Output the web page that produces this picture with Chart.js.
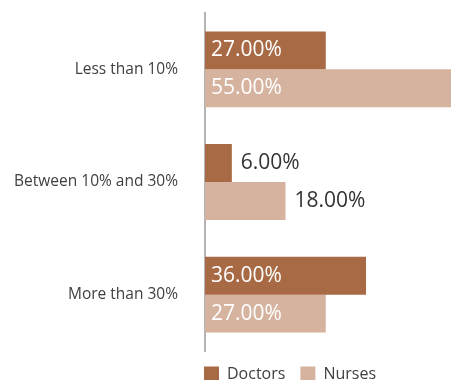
<!DOCTYPE html>
<html>
<head>
<meta charset="utf-8">
<script src="https://cdn.jsdelivr.net/npm/chart.js@4"></script>
<style>
  html, body { margin: 0; padding: 0; background: #fff; }
  #wrap { width: 451px; height: 380px; }
</style>
</head>
<body>
<div id="wrap"><canvas id="chart"></canvas></div>
<script>
const categories = ['Less than 10%', 'Between 10% and 30%', 'More than 30%'];
const doctors = [27, 6, 36];
const nurses = [55, 18, 27];
const seriesNames = ['Doctors', 'Nurses'];
const seriesColors = ['#A86A44', '#D5B39E'];

// value labels: inside the bar when it fits, after it otherwise
const valueLabels = {
    id: 'valueLabels',
    afterDatasetsDraw(chart) {
        const ctx = chart.ctx;
        ctx.save();
        ctx.font = '21px "Open Sans"';
        ctx.textBaseline = 'middle';
        chart.data.datasets.forEach((ds, i) => {
            chart.getDatasetMeta(i).data.forEach((bar, j) => {
                const text = ds.data[j].toFixed(2) + '%';
                const w = ctx.measureText(text).width;
                if (bar.x - bar.base > w + 14) {
                    ctx.fillStyle = '#fff';
                    ctx.fillText(text, bar.base + 6, bar.y);
                } else {
                    ctx.fillStyle = '#333';
                    ctx.fillText(text, bar.x + 9, bar.y);
                }
            });
        });
        ctx.restore();
    }
};

// legend starts under the axis line
const legendShift = {
    id: 'legendShift',
    afterLayout(chart) {
        chart.legend.left = 189;
        chart.legend.right = 451;
    }
};

new Chart(document.getElementById('chart'), {
    type: 'bar',
    data: {
        labels: categories,
        datasets: [
            { label: seriesNames[0], data: doctors, backgroundColor: seriesColors[0] },
            { label: seriesNames[1], data: nurses, backgroundColor: seriesColors[1] }
        ]
    },
    options: {
        indexAxis: 'y',
        responsive: true,
        maintainAspectRatio: false,
        animation: false,
        categoryPercentage: 0.673,
        barPercentage: 1,
        layout: { padding: { top: 13, right: 0, left: 0, bottom: -12 } },
        plugins: {
            legend: {
                position: 'bottom',
                align: 'start',
                labels: {
                    boxWidth: 15,
                    boxHeight: 15,
                    padding: 15,
                    color: '#404040',
                    font: { family: 'Open Sans', size: 16 }
                }
            },
            tooltip: { enabled: false }
        },
        scales: {
            x: { display: false, min: 0, max: 55 },
            y: {
                grid: { display: false, drawTicks: false },
                border: { color: '#b4b4b4', width: 2 },
                ticks: { color: '#404040', padding: 27, font: { family: 'Open Sans', size: 15.5 } },
                afterFit(scale) {
                    scale.width = 205;
                    scale.paddingTop = 0;
                    scale.paddingBottom = 0;
                }
            }
        }
    },
    plugins: [valueLabels, legendShift]
});
</script>
</body>
</html>
